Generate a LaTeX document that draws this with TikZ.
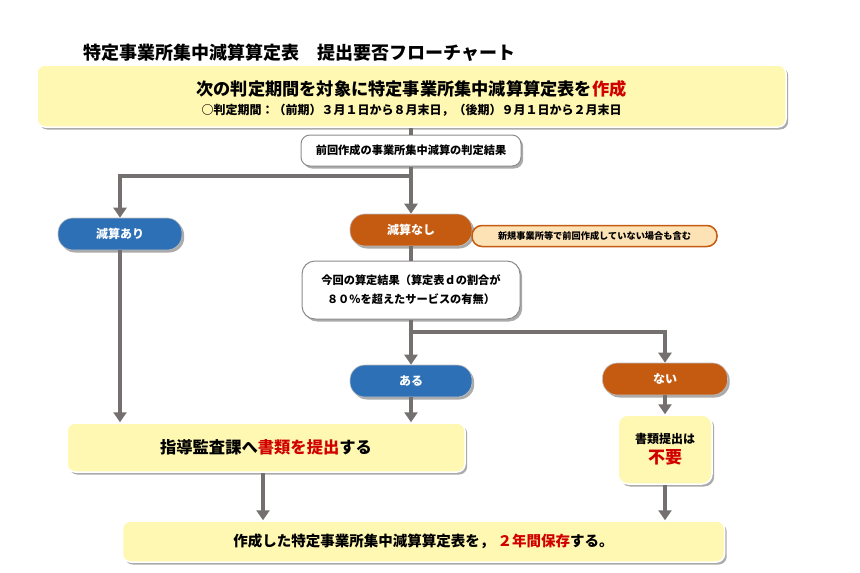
\documentclass[tikz,border=0pt]{standalone}
\usepackage{fontspec}
\setmainfont{Noto Sans CJK JP}
\usetikzlibrary{arrows.meta,shadows}
\definecolor{linegray}{HTML}{757070}
\definecolor{boxyellow}{HTML}{FFF8B2}
\definecolor{pillblue}{HTML}{2E70B6}
\definecolor{pillorange}{HTML}{C55A11}
\definecolor{notefill}{HTML}{FCE2B4}
\definecolor{txtred}{HTML}{D10000}
\tikzset{
  conn/.style={draw=linegray, line width=4pt},
  arr/.style={conn, -{Triangle[width=13pt,length=10pt]}},
  shad/.style={drop shadow={shadow xshift=2.2pt, shadow yshift=-2.5pt, fill=black, opacity=0.33}},
  ybox/.style={shad, fill=boxyellow, draw=white, line width=1.5pt, rounded corners=8pt, inner sep=0pt, align=center, font=\bfseries},
  wbox/.style={shad, fill=white, draw=black!45, line width=1pt, rounded corners=10pt, inner sep=0pt, align=center, font=\bfseries\fontsize{11.2}{19}\selectfont},
  pill/.style={shad, rounded corners=15pt, minimum height=32pt, inner sep=0pt, text=white, draw=black!25, line width=0.6pt, font=\bfseries\fontsize{12}{14}\selectfont},
  bluepill/.style={pill, fill=pillblue},
  orangepill/.style={pill, fill=pillorange},
  notepill/.style={rounded corners=10pt, minimum height=21pt, minimum width=245pt, inner sep=0pt, fill=notefill, draw=pillorange, line width=1.5pt, font=\bfseries\fontsize{9.2}{11}\selectfont},
}
\begin{document}
\begin{tikzpicture}[x=1pt,y=1pt]
\useasboundingbox (0,0) rectangle (860,-573);
\fill[white] (0,0) rectangle (860,-573);

\node[anchor=west, font=\bfseries\fontsize{18}{20}\selectfont] (title) at (80,-53) {特定事業所集中減算算定表　提出要否フローチャート};

\node[ybox, minimum width=749pt, minimum height=62pt] (top) at (411.5,-96)
  {{\fontsize{17.2}{20}\selectfont\rule{0pt}{20pt}次の判定期間を対象に特定事業所集中減算算定表を\textcolor{txtred}{作成}}\\[6pt]
   {\fontsize{12}{14}\selectfont ○判定期間：（前期）３月１日から８月末日，（後期）９月１日から２月末日}};

\node[wbox, minimum width=220pt, minimum height=31pt, rounded corners=9pt] (prev) at (411,-150.5) {前回作成の事業所集中減算の判定結果};

\node[bluepill, minimum width=124pt] (genA) at (120,-234) {減算あり};
\node[orangepill, minimum width=122pt] (genN) at (411,-230) {減算なし};
\node[notepill] (note) at (594.5,-236) {新規事業所等で前回作成していない場合も含む};

\node[wbox, minimum width=218pt, minimum height=58pt, rounded corners=13pt] (cur) at (411,-290)
  {今回の算定結果（算定表ｄの割合が\\８０％を超えたサービスの有無）};

\node[bluepill, minimum width=122pt] (aru) at (411,-381) {ある};
\node[orangepill, minimum width=125pt] (nai) at (665,-379) {ない};

\node[ybox, minimum width=398pt, minimum height=49pt, font=\bfseries\fontsize{16.3}{19}\selectfont] (submit) at (266,-447.5)
  {指導監査課へ\textcolor{txtred}{書類を提出}する};

\node[ybox, minimum width=94pt, minimum height=69pt, rounded corners=10pt] (fuyo) at (665,-449.5)
  {{\fontsize{12}{14}\selectfont 書類提出は}\\[4pt]{\fontsize{17}{19}\selectfont\textcolor{txtred}{不要}}};

\node[ybox, minimum width=602pt, minimum height=41pt, font=\bfseries\fontsize{14.5}{17}\selectfont] (final) at (423.5,-541.5)
  {作成した特定事業所集中減算算定表を，\ \textcolor{txtred}{２年間保存}する。};

% connectors
\coordinate (j1) at (411,-176);
\coordinate (j2) at (411,-332);
\draw[conn] (prev.north |- top.south) -- (prev.north);
\draw[conn] (prev.south) -- (j1);
\draw[arr] (j1) -| (genA.north);
\draw[arr] (j1) -- (genN.north);
\draw[conn] (genN.south) -- (cur.north);
\draw[conn] (cur.south) -- (j2);
\draw[arr] (j2) -| (nai.north);
\draw[arr] (j2) -- (aru.north);
\draw[arr] (genA.south) -- (genA.south |- submit.north);
\draw[arr] (aru.south) -- (aru.south |- submit.north);
\draw[arr] (nai.south) -- (fuyo.north);
\draw[arr] ([xshift=-3pt]submit.south) -- ([xshift=-3pt]submit.south |- final.north);
\draw[arr] (fuyo.south) -- (fuyo.south |- final.north);
\end{tikzpicture}
\end{document}
